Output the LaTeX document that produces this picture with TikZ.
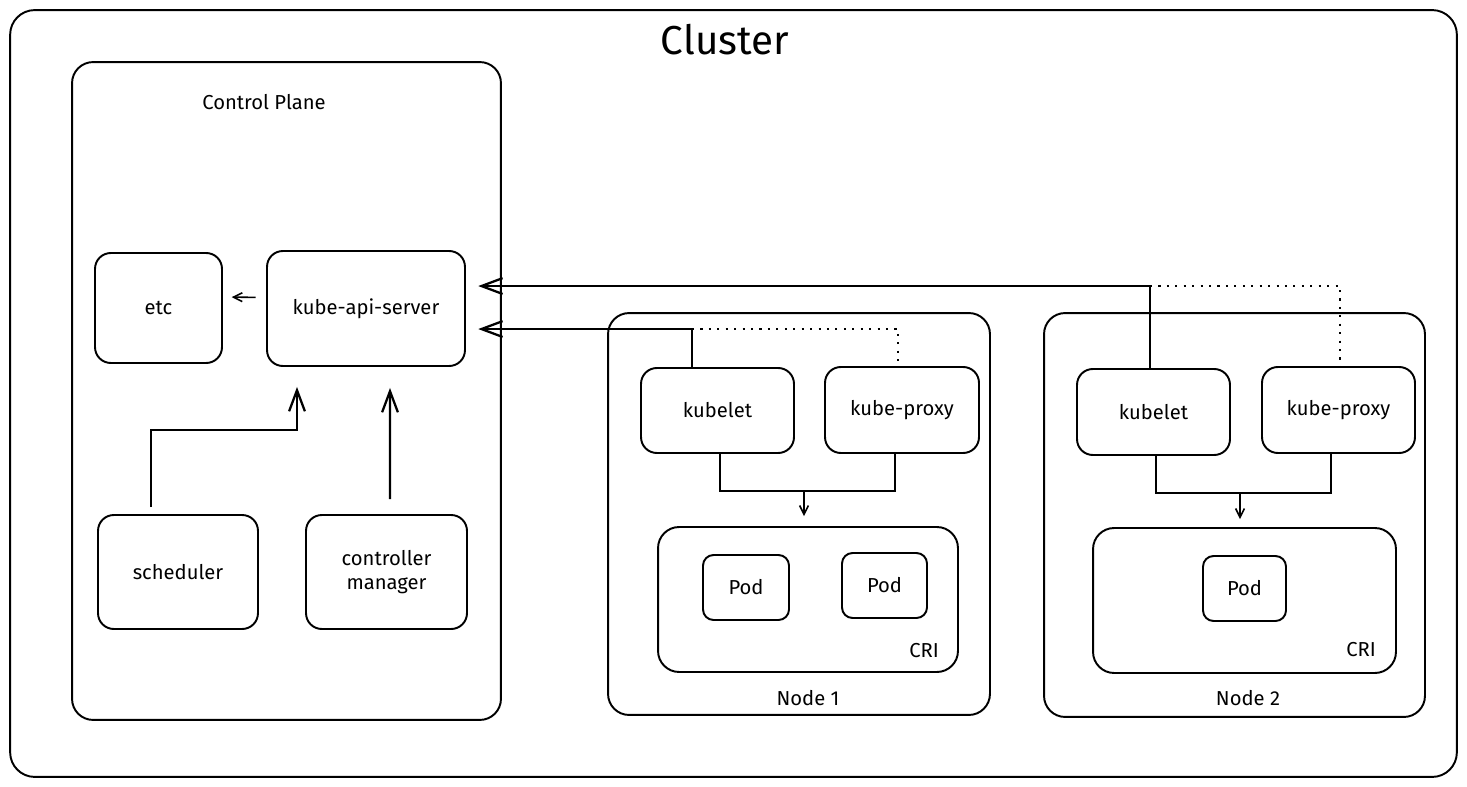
\documentclass[tikz,border=0pt]{standalone}
\usepackage{fontspec}
\setmainfont{Fira Sans}
\usetikzlibrary{arrows.meta, calc}

\begin{document}
\begin{tikzpicture}[x=0.02cm, y=-0.02cm, line width=1.1pt,
  frame/.style={draw, rounded corners=12pt, inner sep=0pt},
  box/.style={draw, rounded corners=9pt, align=center, inner sep=0pt, font=\fontsize{11.5}{13.5}\selectfont},
  pod/.style={draw, rounded corners=6pt, inner sep=0pt, font=\fontsize{11.5}{13.5}\selectfont},
  tag/.style={font=\fontsize{11.5}{13.5}\selectfont},
  arr/.style={-{Straight Barb[length=12pt,width=9pt]}, line width=1.3pt},
  tip/.style={-{Straight Barb[length=5pt,width=5pt]}, line width=0.9pt},
  dots/.style={line width=1.2pt, dash pattern=on 1.2pt off 3.6pt}]
\useasboundingbox (0,0) rectangle (1467,787);
\fill[white] (0,0) rectangle (1467,787);
% outer frames
\node[frame, rounded corners=14pt, minimum width=28.94cm, minimum height=15.34cm] (cluster) at (733.5,393.5) {};
\node[font=\fontsize{23}{27}\selectfont] (title) at (725,40) {Cluster};
\node[frame, minimum width=8.58cm, minimum height=13.16cm] (cp) at (286.5,391) {};
\node[tag] (cplabel) at (264,102) {Control Plane};
\node[frame, minimum width=7.64cm, minimum height=8.04cm] (node1) at (799,514) {};
\node[tag] (n1label) at (808,698) {Node 1};
\node[frame, minimum width=7.62cm, minimum height=8.08cm] (node2) at (1234.5,515) {};
\node[tag] (n2label) at (1248,698) {Node 2};
% control plane
\node[box, minimum width=2.54cm, minimum height=2.2cm] (etc) at (158.5,308) {etc};
\node[box, minimum width=3.96cm, minimum height=2.3cm] (api) at (366,308.5) {kube-api-server};
\node[box, minimum width=3.2cm, minimum height=2.28cm] (sched) at (178,572) {scheduler};
\node[box, minimum width=3.22cm, minimum height=2.28cm] (ctrl) at (386.5,572) {controller\\manager};
% node 1
\node[box, minimum width=3.06cm, minimum height=1.7cm] (kubelet1) at (717.5,410.5) {kubelet};
\node[box, minimum width=3.08cm, minimum height=1.72cm] (proxy1) at (902,410) {kube-proxy};
\node[frame, minimum width=6.0cm, minimum height=2.9cm] (cri1) at (808,599.5) {};
\node[pod, minimum width=1.72cm, minimum height=1.3cm] (pod1a) at (746,587.5) {Pod};
\node[pod, minimum width=1.7cm, minimum height=1.3cm] (pod1b) at (884.5,585.5) {Pod};
\node[tag] (cri1label) at (924,651) {CRI};
% node 2
\node[box, minimum width=3.06cm, minimum height=1.72cm] (kubelet2) at (1153.5,412) {kubelet};
\node[box, minimum width=3.06cm, minimum height=1.72cm] (proxy2) at (1338.5,410) {kube-proxy};
\node[frame, minimum width=6.06cm, minimum height=2.9cm] (cri2) at (1244.5,600.5) {};
\node[pod, minimum width=1.66cm, minimum height=1.3cm] (pod2) at (1244.5,588.5) {Pod};
\node[tag] (cri2label) at (1361,650) {CRI};
% connectors
\draw[tip, shorten <=6pt, shorten >=5pt] ($(api.west)+(0,-11)$) -- ($(etc.east)+(0,-11)$);
\draw[arr] ($(sched.north)+(-27,-7)$) |- ($(api.south)+(-69,63)$) -- ($(api.south)+(-69,20)$);
\draw[arr] ($(ctrl.north)+(3.5,-15)$) -- ($(api.south)+(24,21)$);
\coordinate (j1) at ($(kubelet1.north)+(-25.5,-38)$);
\coordinate (j2) at ($(kubelet2.north)+(-3.5,-82)$);
\draw ($(kubelet1.north)+(-25.5,0)$) -- (j1);
\draw[arr, shorten >=7pt] (j1) -- (j1 -| api.east);
\draw[dots] (j1) -| ($(proxy1.north)+(-4,0)$);
\draw (kubelet2.north -| j2) -- (j2);
\draw[arr, shorten >=7pt] (j2) -- (j2 -| api.east);
\draw[dots] (j2) -| ($(proxy2.north)+(1.5,0)$);
\coordinate (m1) at ($(cri1.north)+(-4,-35)$);
\coordinate (m2) at ($(cri2.north)+(-4.5,-34)$);
\draw ($(kubelet1.south)+(2.5,0)$) |- (m1) -| ($(proxy1.south)+(-7,0)$);
\draw[tip] (m1) -- ($(cri1.north)+(-4,-10)$);
\draw ($(kubelet2.south)+(2.5,0)$) |- (m2) -| ($(proxy2.south)+(-7.5,0)$);
\draw[tip] (m2) -- ($(cri2.north)+(-4.5,-8)$);
\end{tikzpicture}
\end{document}
